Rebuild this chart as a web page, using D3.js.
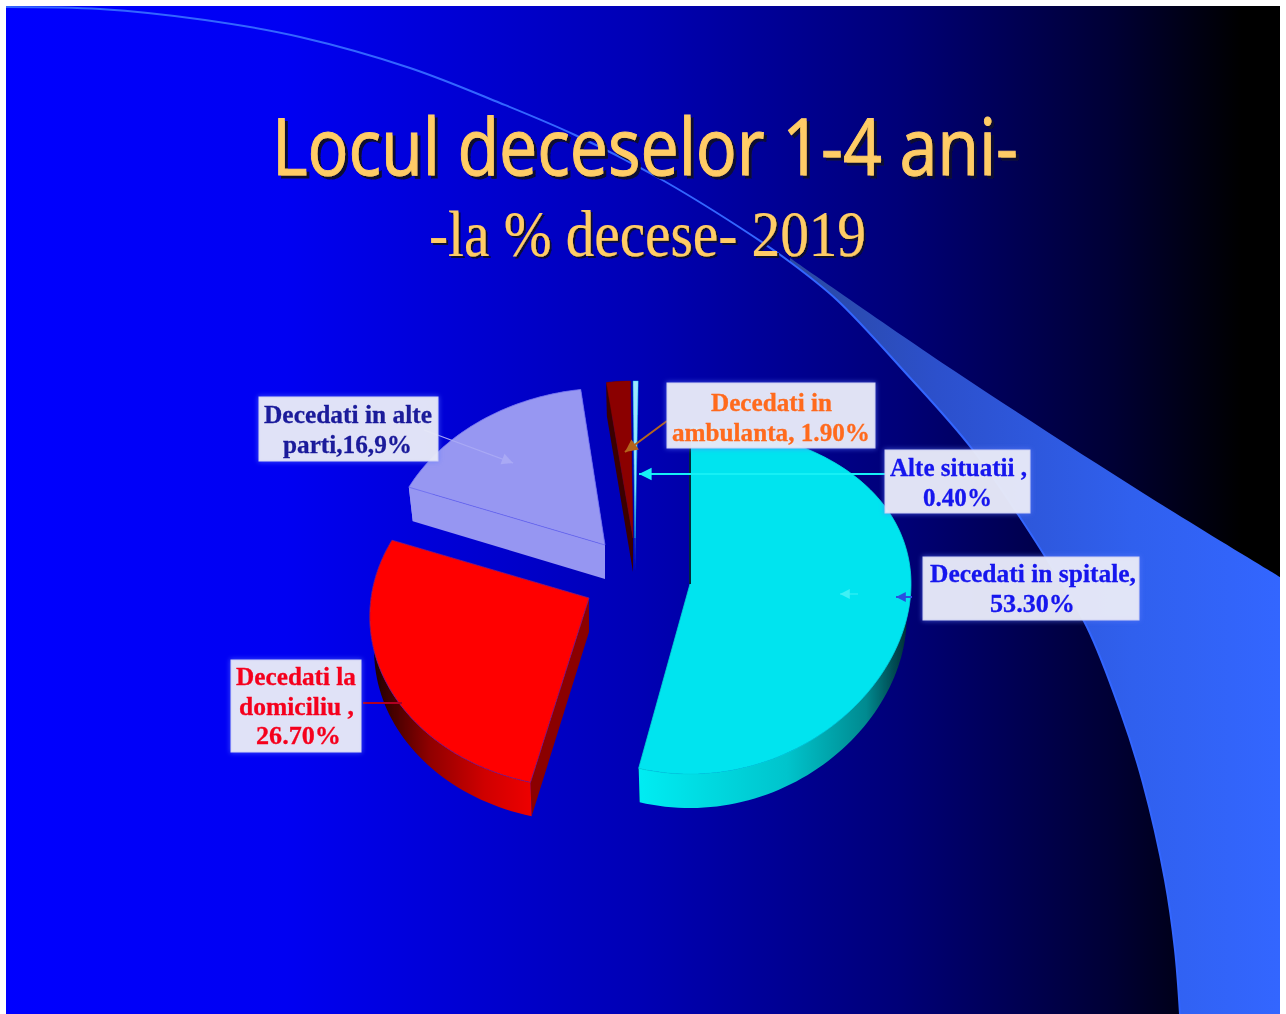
<!DOCTYPE html>
<html><head><meta charset="utf-8">
<script src="https://cdn.jsdelivr.net/npm/d3@7/dist/d3.min.js"></script>
<style>html,body{margin:0;padding:0;background:#fff;overflow:hidden}svg{display:block}</style>
</head><body>
<script>
// ---- data ----
const categories = ["Decedati in spitale", "Decedati la domiciliu", "Decedati in alte parti", "Decedati in ambulanta", "Alte situatii"];
const values = [53.3, 26.7, 16.9, 1.9, 0.4];
const labelLines = [
  ["Decedati in spitale,", "53.30%"],
  ["Decedati la", "domiciliu ,", "26.70%"],
  ["Decedati in alte", "parti,16,9%"],
  ["Decedati in", "ambulanta, 1.90%"],
  ["Alte situatii ,", "0.40%"]
];
const titleText = "Locul deceselor 1-4 ani-";
const subtitleText = "-la % decese- 2019";

// ---- presentation (not data) ----
const W = 1286, H = 1014;
const apexes = [[690,584],[589,598],[605,545],[633,538],[635,538]];
const topColors = ["#00e4ef","#ff0000","#9797f2","#8b0000","#9fe6ff"];
const faceColors = ["#003f48","#8b0000","#9696f2","#3a0606","#1f55c8"];
const edgeColors = ["#00d4e0","#7a1a8a","#6a6af0","#8b0000","#00d8f0"];
const radiusX = [221,218,218,218,218];
const shear = [0,-0.015,-0.03,-0.015,-0.02];
const xPersp = [0,1,1,1,1];
const RY = 172, PERSP = 0.095, DEPTH = 34, BOTTOM_X = 0.98;
const boxes = [
  {x:923,y:557,w:216,h:63,c:"#1414ee",base:[582,612],ext:[[930,1136],[990,1075]]},
  {x:231,y:660,w:130,h:92,c:"#f5001e",base:[685,715,744],ext:[[236,356],[239,354],[256,341]]},
  {x:259,y:397,w:179,h:64,c:"#1a1a9a",base:[423,453],ext:[[264,432],[283,412]]},
  {x:667,y:383,w:208,h:65,c:"#ff6a1e",base:[411,441],ext:[[711,832],[672,870]]},
  {x:885,y:450,w:145,h:63,c:"#1414ee",base:[476,506],ext:[[890,1027],[923,992]]}
];
const leaders = [
  {p:[[912,597],[896,597]],c:"#2a4fe0",w:2,s:7},
  {p:[[858,594],[840,594]],c:"#3ff0f5",w:1,s:7},
  {p:[[363,703],[402,703]],c:"#b00020",w:2,s:0},
  {p:[[424,430],[513,463]],c:"#a9a9f5",w:1.2,s:8},
  {p:[[667,421],[625,452]],c:"#b5651d",w:2,s:9},
  {p:[[885,474],[639,474]],c:"#19f0f5",w:2,s:9}
];
const swooshLine = [[6,7],[100,9],[205,20],[300,37],[410,68],[500,103],[575,135],[657,177],[739,227],[790,262],[837,300],[903,370],[973,450],[1043,553],[1087,627],[1120,710],[1143,783],[1165,880],[1175,950],[1180,1014]];
const bandUpper = [[790,258],[953,370],[1143,493],[1280,577]];

const svg = d3.select("body").append("svg").attr("width",W).attr("height",H);
const defs = svg.append("defs");

function linGrad(id, x1, x2, stops){
  const g = defs.append("linearGradient").attr("id",id).attr("gradientUnits","userSpaceOnUse")
    .attr("x1",x1).attr("x2",x2).attr("y1",0).attr("y2",0);
  stops.forEach(s=>g.append("stop").attr("offset",s[0]).attr("stop-color",s[1]));
}
linGrad("bg",6,1280,[[0,"#0000ff"],[0.22,"#0000f2"],[0.5,"#0000b4"],[0.7,"#000078"],[0.87,"#000034"],[0.97,"#000000"],[1,"#000000"]]);
linGrad("band",790,1280,[[0,"#2a48a0"],[0.3,"#2c50cc"],[0.7,"#3060ee"],[1,"#3366ff"]]);
linGrad("wall0",641,906,[[0,"#00ecf2"],[0.55,"#00c4cc"],[0.85,"#008a90"],[1,"#003038"]]);
linGrad("wall1",375,532,[[0,"#200000"],[0.35,"#900000"],[0.7,"#d00000"],[1,"#ee0000"]]);
linGrad("wall2",400,620,[[0,"#9696f2"],[1,"#9696f2"]]);
linGrad("wall3",600,640,[[0,"#3a0606"],[1,"#3a0606"]]);
linGrad("wall4",600,640,[[0,"#1f55c8"],[1,"#1f55c8"]]);

const soft = defs.append("filter").attr("id","soft").attr("x","-10%").attr("y","-10%").attr("width","120%").attr("height","120%");
soft.append("feGaussianBlur").attr("stdDeviation",0.55);
const halo = defs.append("filter").attr("id","halo").attr("x","-20%").attr("y","-30%").attr("width","140%").attr("height","160%");
halo.append("feGaussianBlur").attr("stdDeviation",2.5);
function shadowFilter(id, d){
  const f = defs.append("filter").attr("id",id).attr("x","-5%").attr("y","-20%").attr("width","110%").attr("height","140%");
  f.append("feGaussianBlur").attr("in","SourceGraphic").attr("stdDeviation",0.5).attr("result","b");
  f.append("feDropShadow").attr("in","b").attr("dx",d).attr("dy",d).attr("stdDeviation",0.7).attr("flood-color","#0a0a30");
}
shadowFilter("titleShadow",3);
shadowFilter("subShadow",2);

// background
svg.append("rect").attr("x",6).attr("y",6).attr("width",1274).attr("height",1008).attr("fill","url(#bg)");
const curve = d3.line().curve(d3.curveCatmullRom.alpha(0.5));
const lowerEdge = swooshLine.slice(swooshLine.findIndex(p=>p[0]===790));
const bandPath = curve(lowerEdge) + "L1280,1014L1280,577" + curve(bandUpper.slice().reverse()).replace(/^M/,"L") + "Z";
svg.append("path").attr("d",bandPath).attr("fill","url(#band)");
svg.append("path").attr("d",curve(swooshLine)).attr("fill","none").attr("stroke","#3366ff").attr("stroke-width",2);

// pie
const pie = d3.pie().value(d=>d).sort(null).startAngle(0).endAngle(2*Math.PI)(values);
function project(i, a, drop){
  const u = Math.sin(a), v = -Math.cos(a);
  const w = 1/(1 - PERSP*v);
  const y = RY*v*w;
  const x = radiusX[i]*u*(xPersp[i]?w:1) + shear[i]*y;
  return [apexes[i][0] + x*(drop?BOTTOM_X:1), apexes[i][1] + y + (drop?DEPTH:0)];
}
function arcPts(i, s, e, drop){
  const n = Math.max(4, Math.ceil((e-s)/0.03));
  return d3.range(n+1).map(k=>project(i, s+(e-s)*k/n, drop));
}
const poly = d3.line();
const gPie = svg.append("g").attr("filter","url(#soft)");
const order = [2,3,4,1,0];
order.forEach(i=>{
  const d = pie[i];
  const g = gPie.append("g").attr("class","slice").datum(d);
  const A = apexes[i], B = [A[0], A[1]+DEPTH];
  [d.startAngle, d.endAngle].forEach(a=>{
    g.append("path").attr("d",poly([A, project(i,a,false), project(i,a,true), B])+"Z")
      .attr("fill",faceColors[i]);
  });
  const topA = arcPts(i,d.startAngle,d.endAngle,false);
  const botA = arcPts(i,d.startAngle,d.endAngle,true).reverse();
  g.append("path").attr("d",poly(topA.concat(botA))+"Z").attr("fill",`url(#wall${i})`);
  g.append("path").attr("d",poly([A].concat(topA))+"Z").attr("fill",topColors[i])
    .attr("stroke",edgeColors[i]).attr("stroke-width",i>2?0.4:0.8);
});
gPie.append("path").attr("d",poly([project(0,0,false),apexes[0]]))
  .attr("stroke","#002a3a").attr("stroke-width",2).attr("fill","none");

// leaders
const gLead = svg.append("g").attr("filter","url(#soft)");
leaders.forEach(l=>{
  const [a,b] = l.p;
  gLead.append("line").attr("x1",a[0]).attr("y1",a[1]).attr("x2",b[0]).attr("y2",b[1])
    .attr("stroke",l.c).attr("stroke-width",l.w);
  if(l.s){
    const t = Math.atan2(b[1]-a[1],b[0]-a[0]), s=l.s;
    const pts=[b,[b[0]-s*1.4*Math.cos(t)+s*.7*Math.sin(t),b[1]-s*1.4*Math.sin(t)-s*.7*Math.cos(t)],
      [b[0]-s*1.4*Math.cos(t)-s*.7*Math.sin(t),b[1]-s*1.4*Math.sin(t)+s*.7*Math.cos(t)]];
    gLead.append("path").attr("d",poly(pts)+"Z").attr("fill",l.c);
  }
});

// data labels
boxes.forEach((b,i)=>{
  svg.append("rect").attr("x",b.x-1).attr("y",b.y-1).attr("width",b.w+2).attr("height",b.h+2)
    .attr("fill","#5f7cff").attr("opacity",.6).attr("filter","url(#halo)");
  svg.append("rect").attr("x",b.x).attr("y",b.y).attr("width",b.w).attr("height",b.h)
    .attr("fill","#ebecf6").attr("fill-opacity",.94).attr("stroke","#cfd2f4").attr("stroke-width",1);
  const g = svg.append("g").attr("filter","url(#soft)");
  labelLines[i].forEach((t,j)=>{
    g.append("text").attr("x",b.ext[j][0]).attr("y",b.base[j]).text(t)
      .attr("font-family","'Liberation Serif',serif").attr("font-weight","bold").attr("font-size",26)
      .attr("fill",b.c).attr("stroke",b.c).attr("stroke-width",0.3)
      .attr("textLength",b.ext[j][1]-b.ext[j][0]).attr("lengthAdjust","spacingAndGlyphs");
  });
});

// titles
function title(txt, x0, x1, base, size, fam, filt, heft){
  svg.append("text").attr("x",x0).attr("y",base).text(txt)
    .attr("font-family",fam).attr("font-size",size).attr("fill","#ffcc66")
    .attr("stroke","#ffcc66").attr("stroke-width",heft).attr("filter",`url(#${filt})`)
    .attr("textLength",x1-x0).attr("lengthAdjust","spacingAndGlyphs");
}
title(titleText,272,1018,175,78,"'Open Sans',sans-serif","titleShadow",1);
title(subtitleText,429,866,256,66,"'Liberation Serif',serif","subShadow",0.2);
</script>
</body></html>
